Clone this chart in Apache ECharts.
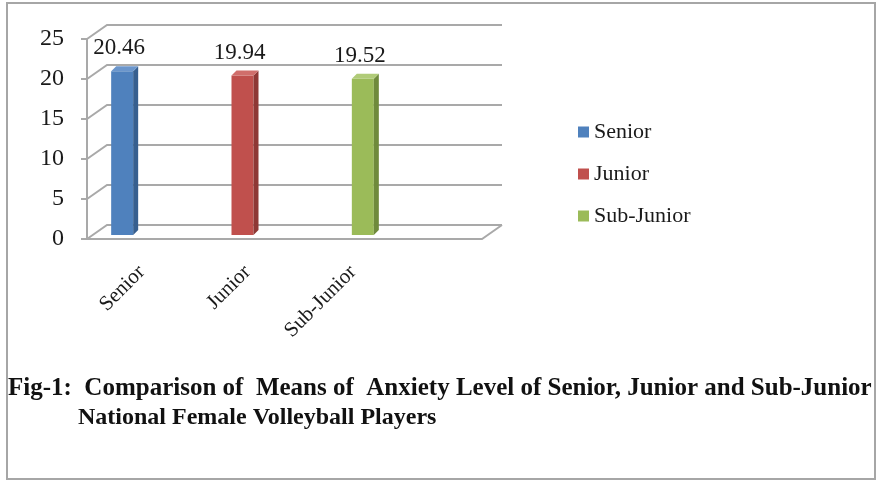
<!DOCTYPE html>
<html>
<head>
<meta charset="utf-8">
<script src="https://cdn.jsdelivr.net/npm/echarts@6/dist/echarts.min.js"></script>
<style>
  html, body { margin: 0; padding: 0; background: #fff; }
  #chart { width: 876px; height: 481px; }
</style>
</head>
<body>
<div id="chart"></div>
<script>
const categories = ['Senior', 'Junior', 'Sub-Junior']
const means = [20.46, 19.94, 19.52]
const yTicks = [0, 5, 10, 15, 20, 25]
// caption is justified in the source, so a few gaps are wider
const captionLines = [
  'Fig-1:  Comparison of  Means of  Anxiety Level of Senior, Junior and Sub-Junior',
  'National Female Volleyball Players',
]

const frontColors = ['#4f81bd', '#c0504d', '#9bbb59']
const sideColors = ['#375f8f', '#8e3835', '#6f8a3c']
const topColors = ['#6b96cc', '#d06e6b', '#b0cb78']

// oblique offset of the back wall
const DX = 20
const DY = -14
const serif = '"Liberation Serif", "Times New Roman", serif'
const frameLine = { stroke: '#a9a9a9', lineWidth: 2, fill: null }

const chart = echarts.init(document.getElementById('chart'))

function renderWall(params, api) {
  const v = api.value(1)
  const a = api.coord([0, v])
  const b = api.coord([1, v])
  const children = [{
    type: 'polyline',
    shape: { points: [a, [a[0] + DX, a[1] + DY], [b[0] + DX, b[1] + DY]] },
    style: frameLine,
  }]
  if (v === yTicks[0]) {
    children.push({
      type: 'polyline',
      shape: { points: [a, b, [b[0] + DX, b[1] + DY]] },
      style: frameLine,
    })
  }
  return { type: 'group', children }
}

function renderBar(params, api) {
  const k = categories.indexOf(params.seriesName)
  const val = api.value(1)
  const base = api.coord([api.value(0), 0])
  const top = api.coord([api.value(0), val])
  const c = base[0]
  const y0 = base[1] - 4
  const y1 = top[1] - 4
  const hw = 11
  const d = 5
  return {
    type: 'group',
    children: [
      { type: 'rect', shape: { x: c - hw, y: y1, width: hw * 2, height: y0 - y1 }, style: { fill: frontColors[k] } },
      { type: 'polygon', shape: { points: [[c + hw, y1], [c + hw + d, y1 - d], [c + hw + d, y0 - d], [c + hw, y0]] }, style: { fill: sideColors[k] } },
      { type: 'polygon', shape: { points: [[c - hw, y1], [c - hw + d, y1 - d], [c + hw + d, y1 - d], [c + hw, y1]] }, style: { fill: topColors[k] } },
      {
        type: 'text',
        style: {
          text: val.toFixed(2), x: c - 3, y: y1 - 23,
          align: 'center', verticalAlign: 'middle',
          font: '23px ' + serif, fill: '#1a1a1a',
        },
      },
    ],
  }
}

const option = {
  animation: false,
  graphic: [{
    type: 'rect',
    shape: { x: 7, y: 3, width: 868, height: 476 },
    style: { fill: null, stroke: '#a6a6a6', lineWidth: 2 },
  }],
  title: [
    {
      text: captionLines[0], left: 8, top: 376, padding: 0,
      textStyle: { fontFamily: serif, fontWeight: 'bold', fontSize: 25, color: '#111' },
    },
    {
      text: captionLines[1], left: 78, top: 406, padding: 0,
      textStyle: { fontFamily: serif, fontWeight: 'bold', fontSize: 24, color: '#111' },
    },
  ],
  legend: {
    orient: 'vertical',
    left: 578,
    top: 121,
    padding: 0,
    icon: 'rect',
    itemWidth: 11,
    itemHeight: 11,
    itemGap: 20,
    data: categories,
    textStyle: { fontFamily: serif, fontSize: 22, color: '#1a1a1a', lineHeight: 22 },
  },
  grid: [
    { left: 62, top: 39, width: 361, height: 200 },
    { left: 87, top: 39, width: 395, height: 200 },
    { left: 89, top: 39, width: 317, height: 200 },
  ],
  xAxis: [
    { type: 'category', gridIndex: 0, data: categories, show: false },
    { type: 'value', gridIndex: 1, min: 0, max: 1, show: false },
    {
      type: 'category', gridIndex: 2, data: categories,
      axisLine: { show: false }, axisTick: { show: false },
      axisLabel: { rotate: 45, margin: 30, fontFamily: serif, fontSize: 21, color: '#1a1a1a' },
    },
  ],
  yAxis: [
    { type: 'value', gridIndex: 0, min: 0, max: 25, show: false },
    {
      type: 'value', gridIndex: 1, min: 0, max: 25, interval: 5,
      axisLine: { show: true, lineStyle: { color: '#a9a9a9', width: 2 } },
      axisTick: { show: true, length: 6, lineStyle: { color: '#a9a9a9', width: 2 } },
      splitLine: { show: false },
      axisLabel: { margin: 23, fontFamily: serif, fontSize: 24, color: '#1a1a1a' },
    },
    { type: 'value', gridIndex: 2, min: 0, max: 25, show: false },
  ],
  series: [
    {
      type: 'custom',
      name: 'frame',
      xAxisIndex: 1,
      yAxisIndex: 1,
      renderItem: renderWall,
      data: yTicks.map(v => [0, v]),
      silent: true,
      z: 1,
    },
    ...categories.map((name, i) => ({
      type: 'custom',
      name,
      xAxisIndex: 0,
      yAxisIndex: 0,
      itemStyle: { color: frontColors[i] },
      renderItem: renderBar,
      data: [[i, means[i]]],
      z: 2,
    })),
  ],
}

chart.setOption(option)
</script>
</body>
</html>
